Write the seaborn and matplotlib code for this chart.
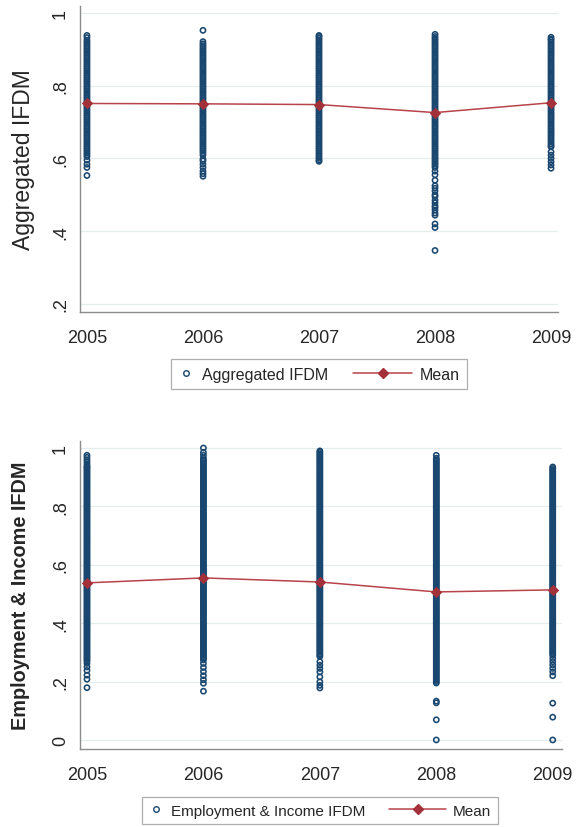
import pandas as pd
import matplotlib
matplotlib.use('Agg')
import matplotlib.pyplot as plt
import seaborn as sns
from matplotlib.lines import Line2D
from matplotlib.legend_handler import HandlerBase

years = [2005, 2006, 2007, 2008, 2009]

# Aggregated IFDM, values per year (dense columns listed at .005 steps)
agg_2005 = [.938, .932, .925,
            .92, .915, .91, .905, .90,
            .895, .89, .885, .88, .875, .87, .865, .86, .855, .85, .845, .84, .835, .83, .825, .82, .815, .81, .805, .80,
            .795, .79, .785, .78, .775, .77, .765, .76, .755, .75, .745, .74, .735, .73, .725, .72, .715, .71, .705, .70,
            .695, .69, .685, .68, .675, .67, .665, .66, .655, .65, .645, .64, .635, .63, .625, .62, .615, .61, .605,
            .595, .584, .575, .553]
agg_2006 = [.952,
            .921, .915, .91, .905, .90,
            .895, .89, .885, .88, .875, .87, .865, .86, .855, .85, .845, .84, .835, .83, .825, .82, .815, .81, .805, .80,
            .795, .79, .785, .78, .775, .77, .765, .76, .755, .75, .745, .74, .735, .73, .725, .72, .715, .71, .705, .70,
            .695, .69, .685, .68, .675, .67, .665, .66, .655, .65, .645, .64, .635, .63, .625, .62, .615, .609,
            .598, .593, .584, .575, .565, .558, .551]
agg_2007 = [.938, .935, .93, .925, .92, .915, .91, .905, .90,
            .895, .89, .885, .88, .875, .87, .865, .86, .855, .85, .845, .84, .835, .83, .825, .82, .815, .81, .805, .80,
            .795, .79, .785, .78, .775, .77, .765, .76, .755, .75, .745, .74, .735, .73, .725, .72, .715, .71, .705, .70,
            .695, .69, .685, .68, .675, .67, .665, .66, .655, .65, .645, .64, .635, .63, .625, .62, .615, .61, .605, .60,
            .595, .592]
agg_2008 = [.941, .935, .93, .925, .92, .915, .91, .905, .90,
            .895, .89, .885, .88, .875, .87, .865, .86, .855, .85, .845, .84, .835, .83, .825, .82, .815, .81, .805, .80,
            .795, .79, .785, .78, .775, .77, .765, .76, .755, .75, .745, .74, .735, .73, .725, .72, .715, .71, .705, .70,
            .695, .69, .685, .68, .675, .67, .665, .66, .655, .65, .645, .64, .635, .63, .625, .62, .615, .61, .605, .60,
            .595, .59, .585, .58, .575,
            .565, .555, .54, .525, .518, .51, .50, .495, .485, .478, .47, .465, .458, .45, .444, .42, .41, .347]
agg_2009 = [.933, .928, .925, .92, .915, .91, .905, .90,
            .895, .89, .885, .88, .875, .87, .865, .86, .855, .85, .845, .84, .835, .83, .825, .82, .815, .81, .805, .80,
            .795, .79, .785, .78, .775, .77, .765, .76, .755, .75, .745, .74, .735, .73, .725, .72, .715, .71, .705, .70,
            .695, .69, .685, .68, .675, .67, .665, .66, .655, .65, .645, .64, .635, .632,
            .618, .609, .60, .591, .582, .573]
agg_mean = [0.751, 0.750, 0.748, 0.726, 0.753]

# Employment & Income IFDM
emp_2005 = [.975, .968, .96, .953, .945, .938, .935, .93, .925, .92, .915, .91, .905, .90,
            .895, .89, .885, .88, .875, .87, .865, .86, .855, .85, .845, .84, .835, .83, .825, .82, .815, .81, .805, .80,
            .795, .79, .785, .78, .775, .77, .765, .76, .755, .75, .745, .74, .735, .73, .725, .72, .715, .71, .705, .70,
            .695, .69, .685, .68, .675, .67, .665, .66, .655, .65, .645, .64, .635, .63, .625, .62, .615, .61, .605, .60,
            .595, .59, .585, .58, .575, .57, .565, .56, .555, .55, .545, .54, .535, .53, .525, .52, .515, .51, .505, .50,
            .495, .49, .485, .48, .475, .47, .465, .46, .455, .45, .445, .44, .435, .43, .425, .42, .415, .41, .405, .40,
            .395, .39, .385, .38, .375, .37, .365, .36, .355, .35, .345, .34, .335, .33, .325, .32, .315, .31, .305, .30,
            .295, .29, .285, .28, .275, .27,
            .262, .25, .238, .222, .208, .179]
emp_2006 = [1.0, .985, .975, .965, .96, .955, .95, .945, .94, .935, .93, .925, .92, .915, .91, .905, .90,
            .895, .89, .885, .88, .875, .87, .865, .86, .855, .85, .845, .84, .835, .83, .825, .82, .815, .81, .805, .80,
            .795, .79, .785, .78, .775, .77, .765, .76, .755, .75, .745, .74, .735, .73, .725, .72, .715, .71, .705, .70,
            .695, .69, .685, .68, .675, .67, .665, .66, .655, .65, .645, .64, .635, .63, .625, .62, .615, .61, .605, .60,
            .595, .59, .585, .58, .575, .57, .565, .56, .555, .55, .545, .54, .535, .53, .525, .52, .515, .51, .505, .50,
            .495, .49, .485, .48, .475, .47, .465, .46, .455, .45, .445, .44, .435, .43, .425, .42, .415, .41, .405, .40,
            .395, .39, .385, .38, .375, .37, .365, .36, .355, .35, .345, .34, .335, .33, .325, .32, .315, .31, .305, .30,
            .295, .29, .285, .28, .274,
            .262, .248, .234, .22, .206, .194, .167]
emp_2007 = [.99, .985, .98, .975, .97, .965, .96, .955, .95, .945, .94, .935, .93, .925, .92, .915, .91, .905, .90,
            .895, .89, .885, .88, .875, .87, .865, .86, .855, .85, .845, .84, .835, .83, .825, .82, .815, .81, .805, .80,
            .795, .79, .785, .78, .775, .77, .765, .76, .755, .75, .745, .74, .735, .73, .725, .72, .715, .71, .705, .70,
            .695, .69, .685, .68, .675, .67, .665, .66, .655, .65, .645, .64, .635, .63, .625, .62, .615, .61, .605, .60,
            .595, .59, .585, .58, .575, .57, .565, .56, .555, .55, .545, .54, .535, .53, .525, .52, .515, .51, .505, .50,
            .495, .49, .485, .48, .475, .47, .465, .46, .455, .45, .445, .44, .435, .43, .425, .42, .415, .41, .405, .40,
            .395, .39, .385, .38, .375, .37, .365, .36, .355, .35, .345, .34, .335, .33, .325, .32, .315, .31, .305, .30,
            .295, .29, .286,
            .268, .256, .245, .233, .216, .199, .187, .178]
emp_2008 = [.975, .965, .96, .955, .95, .945, .94, .935, .93, .925, .92, .915, .91, .905, .90,
            .895, .89, .885, .88, .875, .87, .865, .86, .855, .85, .845, .84, .835, .83, .825, .82, .815, .81, .805, .80,
            .795, .79, .785, .78, .775, .77, .765, .76, .755, .75, .745, .74, .735, .73, .725, .72, .715, .71, .705, .70,
            .695, .69, .685, .68, .675, .67, .665, .66, .655, .65, .645, .64, .635, .63, .625, .62, .615, .61, .605, .60,
            .595, .59, .585, .58, .575, .57, .565, .56, .555, .55, .545, .54, .535, .53, .525, .52, .515, .51, .505, .50,
            .495, .49, .485, .48, .475, .47, .465, .46, .455, .45, .445, .44, .435, .43, .425, .42, .415, .41, .405, .40,
            .395, .39, .385, .38, .375, .37, .365, .36, .355, .35, .345, .34, .335, .33, .325, .32, .315, .31, .305, .30,
            .295, .29, .285, .28, .275, .27, .265, .26, .255, .25, .245, .24, .235, .23, .225, .22, .215, .21, .205, .20,
            .195, .133, .127, .069, .0]
emp_2009 = [.935, .93, .925, .92, .915, .91, .905, .90,
            .895, .89, .885, .88, .875, .87, .865, .86, .855, .85, .845, .84, .835, .83, .825, .82, .815, .81, .805, .80,
            .795, .79, .785, .78, .775, .77, .765, .76, .755, .75, .745, .74, .735, .73, .725, .72, .715, .71, .705, .70,
            .695, .69, .685, .68, .675, .67, .665, .66, .655, .65, .645, .64, .635, .63, .625, .62, .615, .61, .605, .60,
            .595, .59, .585, .58, .575, .57, .565, .56, .555, .55, .545, .54, .535, .53, .525, .52, .515, .51, .505, .50,
            .495, .49, .485, .48, .475, .47, .465, .46, .455, .45, .445, .44, .435, .43, .425, .42, .415, .41, .405, .40,
            .395, .39, .385, .38, .375, .37, .365, .36, .355, .35, .345, .34, .335, .33, .325, .32, .315, .31, .305, .30,
            .295, .29,
            .279, .268, .257, .245, .233, .22, .126, .078, .0]
emp_mean = [0.538, 0.555, 0.541, 0.507, 0.514]

NAVY = '#1a476f'
RED = '#b8434a'
DARKRED = '#a3313a'
AXGREY = '#8c8c8c'


def long_df(lists):
    rows = []
    for yr, vals in zip(years, lists):
        rows += [(yr, v) for v in vals]
    return pd.DataFrame(rows, columns=['year', 'value'])


class LongLine(HandlerBase):
    # Stata-style key: line sticks out to the left of the key box
    def create_artists(self, legend, orig_handle, xdescent, ydescent, width, height, fontsize, trans):
        y = height / 2 - ydescent
        x0 = -xdescent - 2.75 * fontsize
        x1 = -xdescent + width
        ln = Line2D([x0, x1], [y, y], color=RED, lw=1.1, transform=trans)
        mk = Line2D([(x0 + x1) / 2], [y], marker='D', ls='none', ms=5, color=DARKRED, transform=trans)
        return [ln, mk]


sns.set_style('white')
plt.rcParams['font.family'] = ['Liberation Sans', 'DejaVu Sans']

fig = plt.figure(figsize=(5.78, 8.28), dpi=100)
ax1 = fig.add_axes([0.1384, 0.622, 0.827, 0.3696])
ax2 = fig.add_axes([0.1384, 0.0942, 0.834, 0.372])


def draw(ax, lists, means, ylabel, ylim, xlim, yticks, yticklabels, lab_x, lab_kw, leg_label, leg_xy, leg_fs):
    df = long_df(lists)
    sns.scatterplot(data=df, x='year', y='value', ax=ax, marker='o', s=14,
                    color=NAVY, edgecolor=NAVY, linewidth=1.15, legend=False, zorder=3)
    ax.collections[-1].set_facecolor('none')
    sns.lineplot(x=years, y=means, ax=ax, color=RED, lw=1.1, marker='D', markersize=5,
                 markeredgecolor=DARKRED, markerfacecolor=DARKRED, legend=False, zorder=4)
    ax.set_xlim(*xlim)
    ax.set_ylim(*ylim)
    ax.set_xticks(years)
    ax.set_xticklabels([str(y) for y in years], fontsize=13)
    ax.set_yticks(yticks)
    ax.set_yticklabels(yticklabels, fontsize=13, rotation=90, va='center')
    ax.yaxis.grid(True, color='#e4ecee', lw=0.9)
    ax.xaxis.grid(False)
    ax.set_axisbelow(True)
    for s in ['top', 'right']:
        ax.spines[s].set_visible(False)
    for s in ['left', 'bottom']:
        ax.spines[s].set_color(AXGREY)
        ax.spines[s].set_linewidth(1.0)
    ax.tick_params(axis='both', direction='out', length=4, width=0.9, color=AXGREY)
    ax.tick_params(axis='x', pad=8)
    ax.tick_params(axis='y', pad=4)
    ax.set_xlabel('')
    ax.set_ylabel(ylabel, **lab_kw)
    ax.yaxis.set_label_coords(lab_x, 0.5)
    h1 = Line2D([], [], marker='o', ls='none', mfc='none', mec=NAVY, ms=4, mew=1.0)
    h2 = Line2D([], [], color=RED)
    fig.legend([h1, h2], [leg_label, 'Mean'], loc='center', bbox_to_anchor=leg_xy,
               ncol=2, fontsize=leg_fs, frameon=True, fancybox=False, edgecolor='#9a9a9a',
               handlelength=1.0, handletextpad=0.45, columnspacing=4.3, borderpad=0.45,
               handler_map={h2: LongLine()}).get_frame().set_linewidth(0.9)


draw(ax1, [agg_2005, agg_2006, agg_2007, agg_2008, agg_2009], agg_mean, 'Aggregated IFDM',
     (0.178, 1.019), (2004.94, 2009.06), [.2, .4, .6, .8, 1.0], ['.2', '.4', '.6', '.8', '1'],
     -0.095, dict(fontsize=16.5), 'Aggregated IFDM', (0.552, 0.547), 11.5)
draw(ax2, [emp_2005, emp_2006, emp_2007, emp_2008, emp_2009], emp_mean, 'Employment & Income IFDM',
     (-0.031, 1.024), (2004.94, 2009.08), [0, .2, .4, .6, .8, 1.0], ['0', '.2', '.4', '.6', '.8', '1'],
     -0.104, dict(fontsize=14.3, fontweight='bold'), 'Employment & Income IFDM', (0.5536, 0.0199), 11)

fig.savefig('out.png', dpi=100, facecolor='white')
